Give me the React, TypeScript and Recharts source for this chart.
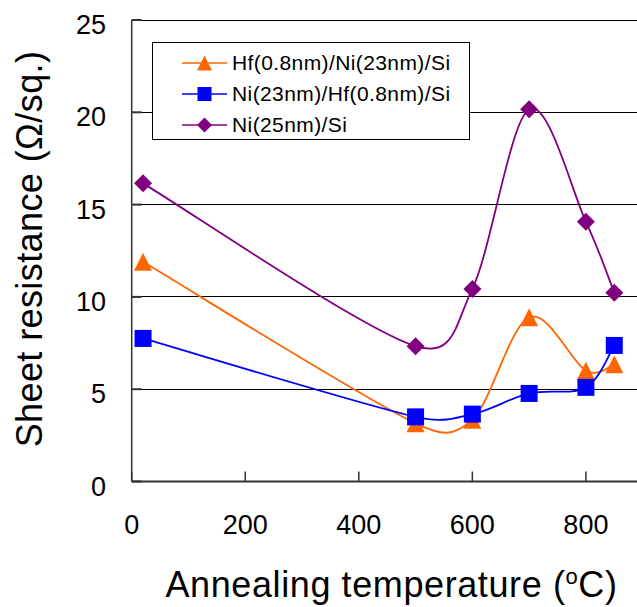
import React from 'react';
import { LineChart, Line, XAxis, YAxis, CartesianGrid, Legend } from 'recharts';

const temperatures = [20, 500, 600, 700, 800, 850];
const hfNiSi = [11.9, 3.15, 3.35, 8.9, 6.0, 6.35];
const niHfSi = [7.75, 3.5, 3.65, 4.77, 5.1, 7.37];
const niSi = [16.15, 7.33, 10.43, 20.16, 14.07, 10.23];
const xTicks = [0, 200, 400, 600, 800];
const yTicks = [0, 5, 10, 15, 20, 25];
const seriesNames = ['Hf(0.8nm)/Ni(23nm)/Si', 'Ni(23nm)/Hf(0.8nm)/Si', 'Ni(25nm)/Si'];
const seriesKeys = ['hf', 'niHf', 'ni'];
const seriesColors = ['#FF6600', '#0000FF', '#800080'];
const seriesShapes = ['triangle', 'square', 'diamond'];

const data = temperatures.map((t, i) => ({ t, hf: hfNiSi[i], niHf: niHfSi[i], ni: niSi[i] }));

const FONT = "'Liberation Sans', Arial, sans-serif";

const dist = (a: number[], b: number[]) => Math.hypot(a[0] - b[0], a[1] - b[1]);

// Excel-like smoothed curve: Catmull-Rom Bezier, control arms capped at half the segment length
const excelSmooth = (context: any) => {
  let pts: number[][] = [];
  return {
    areaStart() {},
    areaEnd() {},
    lineStart() { pts = []; },
    point(x: number, y: number) { pts.push([+x, +y]); },
    lineEnd() {
      const n = pts.length;
      if (!n) return;
      context.moveTo(pts[0][0], pts[0][1]);
      for (let i = 0; i < n - 1; i++) {
        const p0 = pts[i - 1] || pts[i];
        const p1 = pts[i];
        const p2 = pts[i + 1];
        const p3 = pts[i + 2] || pts[i + 1];
        const d12 = dist(p1, p2);
        const d02 = dist(p0, p2);
        const d13 = dist(p1, p3);
        let f1 = 1 / 6;
        let f2 = 1 / 6;
        if (d02 > 0 && d02 / 6 > d12 / 2) f1 = d12 / 2 / d02;
        if (d13 > 0 && d13 / 6 > d12 / 2) f2 = d12 / 2 / d13;
        context.bezierCurveTo(
          p1[0] + (p2[0] - p0[0]) * f1, p1[1] + (p2[1] - p0[1]) * f1,
          p2[0] - (p3[0] - p1[0]) * f2, p2[1] - (p3[1] - p1[1]) * f2,
          p2[0], p2[1]
        );
      }
    },
  };
};

const MarkerShape = ({ shape, cx, cy, color, size }: any) => {
  const h = size / 2;
  if (shape === 'triangle') {
    return <polygon points={`${cx},${cy - h} ${cx + h},${cy + h} ${cx - h},${cy + h}`} fill={color} />;
  }
  if (shape === 'square') {
    return <rect x={cx - h + 0.5} y={cy - h + 0.5} width={size - 1} height={size - 1} fill={color} />;
  }
  return <polygon points={`${cx},${cy - h} ${cx + h},${cy} ${cx},${cy + h} ${cx - h},${cy}`} fill={color} />;
};

const makeDot = (shape: string, color: string) => (props: any) => {
  const { cx, cy, index } = props;
  if (cx == null || cy == null) return <g key={`d-${index}`} />;
  return (
    <g key={`d-${shape}-${index}`}>
      <MarkerShape shape={shape} cx={cx} cy={cy} color={color} size={18} />
    </g>
  );
};

const XTick = (props: any) => {
  const { x, y, payload } = props;
  return (
    <g>
      <line x1={x} y1={y} x2={x} y2={y - 10} stroke="#333" strokeWidth={1.5} />
      <text x={x} y={y + 52.5} textAnchor="middle" fontSize={27} fontFamily={FONT} fill="#000">
        {payload.value}
      </text>
    </g>
  );
};

const YTick = (props: any) => {
  const { x, y, payload } = props;
  return (
    <g>
      <line x1={x} y1={y} x2={x + 10} y2={y} stroke="#333" strokeWidth={2} />
      <text x={x - 25.7} y={y + 14} textAnchor="end" fontSize={27} fontFamily={FONT} fill="#000">
        {payload.value}
      </text>
    </g>
  );
};

const XTitle = () => (
  <text x={391.5} y={597} textAnchor="middle" fontSize={36} letterSpacing={0.6} fontFamily={FONT} fill="#000">
    Annealing temperature (<tspan fontSize={22} dy={-13}>o</tspan><tspan dy={13}>C)</tspan>
  </text>
);

const YTitle = () => (
  <text
    transform="translate(42, 249) rotate(-90)"
    textAnchor="middle"
    fontSize={36}
    letterSpacing={0.4}
    fontFamily={FONT}
    fill="#000"
  >
    Sheet resistance (Ω/sq.)
  </text>
);

const LegendBox = () => (
  <div
    style={{
      boxSizing: 'border-box',
      width: 318,
      height: 98,
      border: '1px solid #000',
      background: '#fff',
      paddingTop: 4,
      fontFamily: FONT,
      fontSize: 21,
      color: '#000',
    }}
  >
    {seriesNames.map((name, i) => (
      <div key={name} style={{ height: 31, display: 'flex', alignItems: 'center', paddingLeft: 29 }}>
        <svg width={45} height={20} style={{ display: 'block' }}>
          <line x1={0} y1={10} x2={45} y2={10} stroke={seriesColors[i]} strokeWidth={1.5} />
          <MarkerShape shape={seriesShapes[i]} cx={22.5} cy={10} color={seriesColors[i]} size={15} />
        </svg>
        <span style={{ marginLeft: 5, letterSpacing: 0.4, whiteSpace: 'nowrap' }}>{name}</span>
      </div>
    ))}
  </div>
);

export default function App() {
  return (
    <div style={{ position: 'absolute', left: 0, top: 0, width: 637, height: 607, background: '#fff', overflow: 'hidden' }}>
      <LineChart width={637} height={607} data={data} margin={{ top: 20, right: 0, bottom: 0, left: 0 }}>
        <CartesianGrid horizontal vertical={false} stroke="#000" strokeWidth={1} shapeRendering="crispEdges" />
        <XAxis
          dataKey="t"
          type="number"
          domain={[0, 890]}
          ticks={xTicks}
          height={125.5}
          tickSize={0}
          tickMargin={0}
          tickLine={false}
          axisLine={{ stroke: '#333', strokeWidth: 2 }}
          tick={<XTick />}
          interval={0}
          label={<XTitle />}
        />
        <YAxis
          type="number"
          domain={[0, 25]}
          ticks={yTicks}
          width={131.7}
          tickSize={0}
          tickMargin={0}
          tickLine={false}
          axisLine={{ stroke: '#333', strokeWidth: 1.5 }}
          tick={<YTick />}
          interval={0}
          label={<YTitle />}
        />
        <Legend
          layout="vertical"
          align="center"
          verticalAlign="middle"
          wrapperStyle={{ position: 'absolute', left: 152, top: 42, width: 318, height: 98 }}
          content={() => <LegendBox />}
        />
        {seriesKeys.map((k, i) => (
          <Line
            key={k}
            dataKey={k}
            name={seriesNames[i]}
            type={excelSmooth as any}
            stroke={seriesColors[i]}
            strokeWidth={1.8}
            dot={makeDot(seriesShapes[i], seriesColors[i])}
            activeDot={false}
            isAnimationActive={false}
          />
        ))}
      </LineChart>
    </div>
  );
}
